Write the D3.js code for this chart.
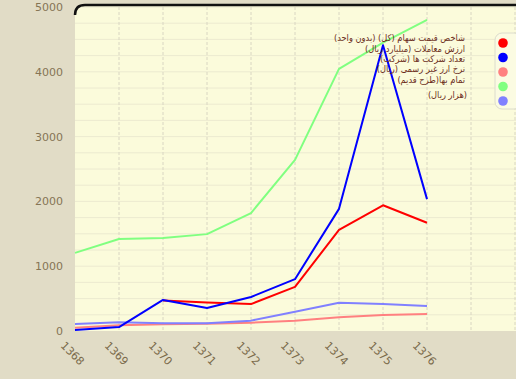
<!DOCTYPE html>
<html><head><meta charset="utf-8">
<script src="https://cdn.jsdelivr.net/npm/d3@7"></script>
<style>
html,body{margin:0;padding:0;background:#e1dcc6;}
svg{display:block;}
</style></head>
<body>
<svg id="c" width="516" height="379"></svg>
<script>
const years = ["1368","1369","1370","1371","1372","1373","1374","1375","1376"];
const extraSlots = 2;
const yTicks = [0,1000,2000,3000,4000,5000];
const seriesNames = [
  "شاخص قیمت سهام (کل) (بدون واحد)",
  "ارزش معاملات (میلیارد ریال)",
  "تعداد شرکت ها (شرکت)",
  "نرخ  ارز غیر رسمی (ریال)",
  "تمام بها(طرح قدیم)"
];
const legendExtraLine = "(هزار ریال)";
const seriesColors = ["#ff0000","#0000ff","#ff8080","#80ff80","#8080ff"];
const stockIndex   = [null,null,470,440,415,680,1560,1940,1670];
const tradeValue   = [15,60,480,355,525,800,1885,4410,2035];
const companies    = [50,88,103,113,128,160,211,247,262];
const fxRate       = [1205,1420,1435,1495,1820,2640,4045,4450,4800];
const costPrice    = [108,134,118,118,160,298,437,417,386];
const seriesValues = [stockIndex,tradeValue,companies,fxRate,costPrice];

const svg = d3.select("#c");
const L=75, T=5, R=516, B=331;
const x = d3.scaleLinear().domain([0, years.length-1+extraSlots]).range([L, L+440]);
const y = d3.scaleLinear().domain([0,5000]).range([B, 7]);

svg.append("path")
  .attr("d", `M${L},${B} L${L},${T+9} Q${L},${T} ${L+9},${T} L${R},${T} L${R},${B} Z`)
  .attr("fill","#fbfbdb");

svg.append("g").selectAll("line").data(d3.range(250,5001,250)).join("line")
  .attr("x1",L).attr("x2",R).attr("y1",d=>y(d)).attr("y2",d=>y(d))
  .attr("stroke","#ecead0").attr("stroke-width",1);
svg.append("g").selectAll("line").data(d3.range(1, years.length+extraSlots)).join("line")
  .attr("x1",d=>x(d)).attr("x2",d=>x(d)).attr("y1",T+2).attr("y2",B)
  .attr("stroke","#d9d6c2").attr("stroke-width",1).attr("stroke-dasharray","3,2");

svg.append("path")
  .attr("d", `M${L},${T+10} Q${L},${T} ${L+10},${T} L${R},${T}`)
  .attr("fill","none").attr("stroke","#111").attr("stroke-width",2.5);

const yAxis = d3.axisLeft(y).tickValues(yTicks).tickSize(0).tickPadding(0).tickFormat(d3.format("d"));
const ga = svg.append("g").attr("transform",`translate(${L-12},0)`).call(yAxis);
ga.select(".domain").remove();
ga.selectAll("text").attr("fill","#857555").attr("font-family","DejaVu Sans, sans-serif").attr("font-size",11);

const gx = svg.append("g");
gx.selectAll("text").data(years).join("text")
  .attr("transform",(d,i)=>`translate(${x(i)-3},${354}) rotate(45)`)
  .attr("text-anchor","middle").attr("dominant-baseline","middle")
  .attr("fill","#7a6a4a").attr("font-family","DejaVu Sans, sans-serif").attr("font-size",11)
  .text(d=>d);

const line = d3.line().defined(d=>d!=null).x((d,i)=>x(i)).y(d=>y(d));
const order = [3,2,4,0,1];
svg.append("g").selectAll("path").data(order).join("path")
  .attr("d",k=>line(seriesValues[k]))
  .attr("fill","none").attr("stroke",k=>seriesColors[k])
  .attr("stroke-width",2).attr("stroke-linejoin","round");

svg.append("rect").attr("x",495).attr("y",33).attr("width",26).attr("height",76).attr("rx",7)
  .attr("fill","#fbfbe2").attr("stroke","#dcdccc");
svg.append("g").selectAll("circle").data(seriesColors).join("circle")
  .attr("cx",503).attr("cy",(d,i)=>43+i*14.5).attr("r",4.8).attr("fill",d=>d);
const lt = svg.append("g").attr("font-family","'DejaVu Sans Condensed', 'DejaVu Sans', sans-serif")
  .attr("font-stretch","condensed").attr("font-size",9.2)
  .attr("fill","#6b2d1a").attr("text-anchor","start").attr("direction","rtl");
lt.selectAll("text").data(seriesNames.concat([legendExtraLine])).join("text")
  .attr("x",(d,i)=>i<5 ? 465 : 467).attr("y",(d,i)=>[41,51.5,62,72,82.5,98][i])
  .text(d=>d);
</script>
</body></html>
